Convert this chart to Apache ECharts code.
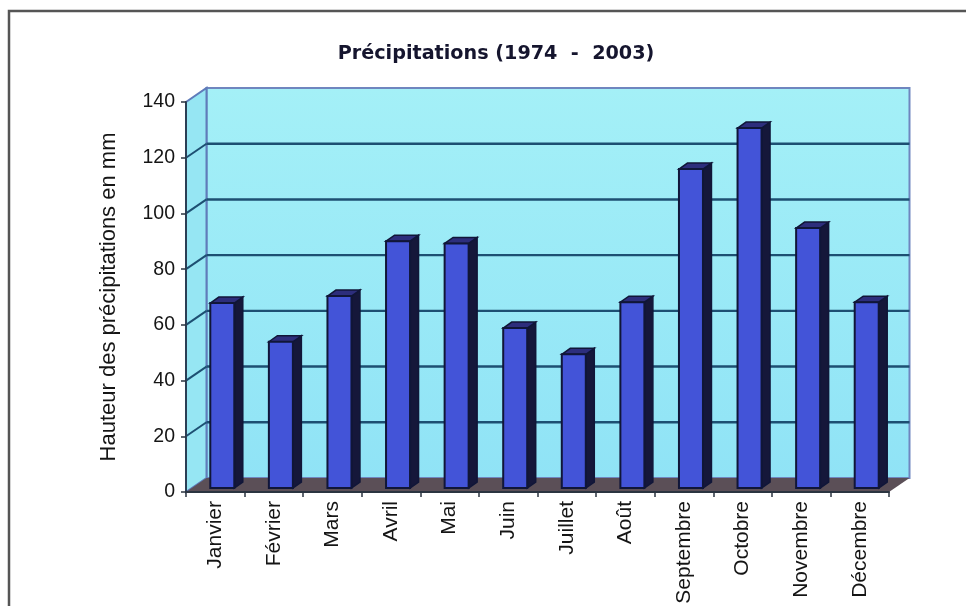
<!DOCTYPE html>
<html lang="fr">
<head>
<meta charset="utf-8">
<title>Précipitations (1974 - 2003)</title>
<script src="https://cdn.jsdelivr.net/npm/echarts@6/dist/echarts.min.js"></script>
<style>
  html, body { margin: 0; padding: 0; background: #fff; }
  #chart { width: 966px; height: 606px; }
</style>
</head>
<body>
<div id="chart"></div>
<script>
// Monthly rainfall, in mm
const months = ['Janvier', 'Février', 'Mars', 'Avril', 'Mai', 'Juin', 'Juillet', 'Août', 'Septembre', 'Octobre', 'Novembre', 'Décembre'];
const rainfall = [66.4, 52.5, 68.9, 88.6, 87.8, 57.4, 48, 66.7, 114.5, 129.2, 93.3, 66.7];
const gridTicks = [20, 40, 60, 80, 100, 120];

// Pseudo-3D projection, in pixels
const WALL_DX = 20.5, WALL_DY = -14;   // depth of the chart box
const BAR_DX = 7, BAR_DY = -4;         // bar front face inside the box
const SIDE_DX = 8.5, SIDE_DY = -6;     // depth of a bar
const BAR_WIDTH = 24;

const poly = (points, fill, stroke, lineWidth) => ({
  type: 'polygon',
  shape: { points },
  style: { fill, stroke: stroke || null, lineWidth: lineWidth || 0 }
});

const line = (x1, y1, x2, y2, stroke, lineWidth) => ({
  type: 'line',
  shape: { x1, y1, x2, y2 },
  style: { stroke, lineWidth }
});

// Back wall, side wall and floor of the box
function renderBox(params) {
  const c = params.coordSys;
  const l = c.x, r = c.x + c.width, t = c.y, b = c.y + c.height;
  const wallFill = new echarts.graphic.LinearGradient(0, 0, 0, 1, [
    { offset: 0, color: '#a4f0f7' },
    { offset: 1, color: '#90e3f6' }
  ]);
  return {
    type: 'group',
    children: [
      poly([[l + WALL_DX, t + WALL_DY], [r + WALL_DX, t + WALL_DY], [r + WALL_DX, b + WALL_DY], [l + WALL_DX, b + WALL_DY]], wallFill, '#6f86bf', 2),
      poly([[l, t], [l + WALL_DX, t + WALL_DY], [l + WALL_DX, b + WALL_DY], [l, b]], '#96e6f3', '#5f7cba', 2),
      poly([[l, b], [l + WALL_DX, b + WALL_DY], [r + WALL_DX, b + WALL_DY], [r, b]], '#5b4f57')
    ]
  };
}

// One gridline per tick: diagonal on the side wall, horizontal on the back wall
function renderGridline(params, api) {
  const c = params.coordSys;
  const y = api.coord([0, api.value(0)])[1];
  const l = c.x, r = c.x + c.width;
  return {
    type: 'group',
    children: [
      line(l, y, l + WALL_DX, y + WALL_DY, '#1d4f72', 2),
      line(l + WALL_DX, y + WALL_DY, r + WALL_DX, y + WALL_DY, '#1d4f72', 2.4)
    ]
  };
}

// A bar as three faces: front, right side and top
function renderBar(params, api) {
  const top = api.coord([api.value(0), api.value(1)]);
  const base = api.coord([api.value(0), 0]);
  const x0 = top[0] + BAR_DX - BAR_WIDTH / 2, x1 = x0 + BAR_WIDTH;
  const yT = top[1] + BAR_DY, yB = base[1] + BAR_DY;
  const edge = '#101638';
  return {
    type: 'group',
    children: [
      poly([[x1, yT], [x1 + SIDE_DX, yT + SIDE_DY], [x1 + SIDE_DX, yB + SIDE_DY], [x1, yB]], '#15173a', edge, 1.5),
      poly([[x0, yT], [x0 + SIDE_DX, yT + SIDE_DY], [x1 + SIDE_DX, yT + SIDE_DY], [x1, yT]], '#2d2e7c', edge, 1.5),
      poly([[x0, yT], [x1, yT], [x1, yB], [x0, yB]], '#4354d8', edge, 2)
    ]
  };
}

const chart = echarts.init(document.getElementById('chart'), null, { renderer: 'canvas' });
const FONT = '"Liberation Sans", Arial, sans-serif';
const INK = '#151515';

chart.setOption({
  animation: false,
  backgroundColor: '#ffffff',
  title: {
    text: 'Précipitations (1974  -  2003)',
    left: 491,
    top: 40,
    textAlign: 'center',
    textStyle: { fontFamily: '"DejaVu Sans", sans-serif', fontWeight: 'bold', fontSize: 19.2, color: '#15152e' }
  },
  grid: { left: 186, top: 102, width: 703, height: 390, containLabel: false, outerBoundsMode: 'none' },
  xAxis: {
    type: 'category',
    data: months,
    z: 5,
    boundaryGap: true,
    axisLine: { lineStyle: { color: '#2b3440', width: 2 } },
    axisTick: { show: true, alignWithLabel: false, length: 5, lineStyle: { color: '#2b3440', width: 1.5 } },
    axisLabel: { rotate: 90, interval: 0, margin: 9, fontFamily: FONT, fontSize: 21, color: INK }
  },
  yAxis: {
    type: 'value',
    min: 0,
    max: 140,
    interval: 20,
    z: 5,
    name: 'Hauteur des précipitations en mm',
    nameLocation: 'middle',
    nameRotate: 90,
    nameGap: 66,
    nameTextStyle: { fontFamily: FONT, fontSize: 22, color: INK },
    axisLine: { show: true, lineStyle: { color: '#2b3f55', width: 2 } },
    axisTick: { show: true, length: 5, lineStyle: { color: '#2b3440', width: 1.5 } },
    axisLabel: { margin: 11, fontFamily: FONT, fontSize: 19.5, color: INK },
    splitLine: { show: false }
  },
  series: [
    { type: 'custom', z: 1, clip: false, silent: true, renderItem: renderBox, data: [0] },
    { type: 'custom', z: 2, clip: false, silent: true, renderItem: renderGridline, data: gridTicks.map(v => [v]), encode: { y: 0 } },
    { type: 'custom', z: 3, clip: false, renderItem: renderBar, data: rainfall.map((v, i) => [i, v]), encode: { x: 0, y: 1 } }
  ],
  graphic: [{
    type: 'polyline',
    shape: { points: [[9, 606], [9, 11], [966, 11]] },
    style: { stroke: '#555555', lineWidth: 2.5, fill: null }
  }]
});
</script>
</body>
</html>
